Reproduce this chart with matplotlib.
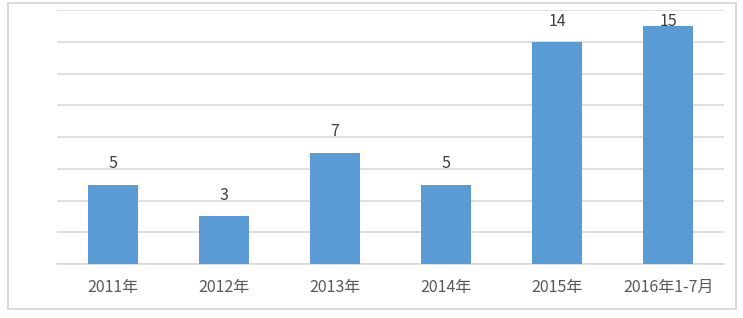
import matplotlib
matplotlib.use("Agg")
import matplotlib.pyplot as plt
from matplotlib.patches import Rectangle

plt.rcParams['font.family'] = ['Noto Sans CJK SC', 'DejaVu Sans']

# chart data
categories = ["2011年", "2012年", "2013年", "2014年", "2015年", "2016年1-7月"]
values = [5, 3, 7, 5, 14, 15]

bar_color = "#5b9bd5"
grid_color = "#d9d9d9"
text_color = "#595959"

fig = plt.figure(figsize=(7.43, 3.18), dpi=100)
ax = fig.add_axes([57 / 743, 54 / 318, 667 / 743, 254 / 318])

x = range(len(categories))
ax.bar(x, values, width=0.45, color=bar_color, zorder=3)

# value labels above bars (kept inside plot area, like Excel does)
for xi, v in zip(x, values):
    ax.text(xi, min(v + 1.33, 15.3), str(v), ha='center', va='center',
            fontsize=11.5, color="#404040", zorder=4)

ax.set_xlim(-0.5, len(categories) - 0.5)
ax.set_ylim(0, 16)
ax.set_yticks(range(0, 17, 2))
ax.set_yticklabels([])
ax.yaxis.grid(True, color=grid_color, linewidth=1.2, zorder=0)
ax.tick_params(axis='y', length=0)
ax.set_xticks(list(x))
ax.set_xticklabels(categories, fontsize=11.5, color=text_color)
ax.tick_params(axis='x', length=0, pad=11)

for side in ['top', 'right', 'left']:
    ax.spines[side].set_visible(False)
ax.spines['bottom'].set_color(grid_color)
ax.spines['bottom'].set_linewidth(1.2)

# outer chart border
fig.patches.append(Rectangle((8 / 743, 9 / 318), 728 / 743, 306 / 318,
                             transform=fig.transFigure, fill=False,
                             edgecolor=grid_color, linewidth=1.5))

plt.savefig("out.png", dpi=100)
plt.close()
